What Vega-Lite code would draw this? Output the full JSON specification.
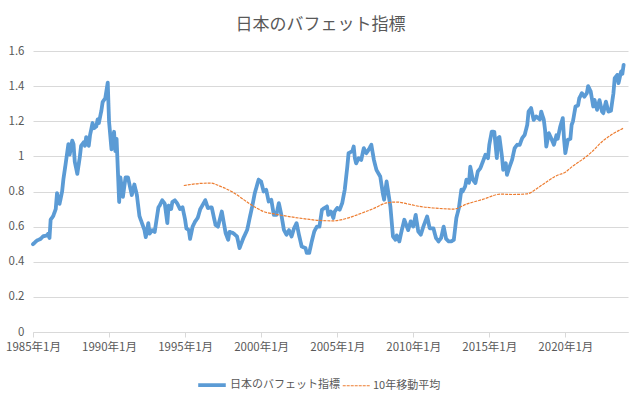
{
  "$schema": "https://vega.github.io/schema/vega-lite/v6.json",
  "width": 595,
  "height": 281,
  "autosize": {"type": "none"},
  "padding": {"left": 33, "top": 51, "right": 12, "bottom": 63},
  "background": "white",
  "title": {"text": "日本のバフェット指標", "fontSize": 17, "font": "Noto Sans CJK JP", "fontWeight": "normal", "color": "#595959", "anchor": "middle", "dx": -10, "offset": 11},
  "encoding": {
    "x": {"field": "d", "type": "temporal",
      "scale": {"type": "utc", "domain": [{"year": 1985, "month": 1, "date": 1, "utc": true}, {"year": 2024, "month": 2, "date": 14, "utc": true}]},
      "axis": {"title": null, "grid": false, "labelExpr": "utcFormat(datum.value, '%Y年%-m月')",
        "values": [{"year": 1985, "month": 1, "date": 1, "utc": true}, {"year": 1990, "month": 1, "date": 1, "utc": true}, {"year": 1995, "month": 1, "date": 1, "utc": true}, {"year": 2000, "month": 1, "date": 1, "utc": true}, {"year": 2005, "month": 1, "date": 1, "utc": true}, {"year": 2010, "month": 1, "date": 1, "utc": true}, {"year": 2015, "month": 1, "date": 1, "utc": true}, {"year": 2020, "month": 1, "date": 1, "utc": true}],
        "domainColor": "#D9D9D9", "tickColor": "#D9D9D9", "tickSize": 5, "labelPadding": 4, "labelFlush": false, "labelOverlap": false}},
    "y": {"field": "v", "type": "quantitative", "scale": {"domain": [0, 1.6], "nice": false},
      "axis": {"title": null, "values": [0, 0.2, 0.4, 0.6, 0.8, 1, 1.2, 1.4, 1.6], "format": "~g", "domain": false, "ticks": false, "gridColor": "#D9D9D9", "labelPadding": 9}}
  },
  "layer": [
    {
      "data": {"format": {"parse": {"d": "utc:'%Y-%m'"}}, "values": [
        {"d":"1985-01","v":0.50},{"d":"1985-04","v":0.52},{"d":"1985-07","v":0.53},{"d":"1985-09","v":0.545},{"d":"1985-12","v":0.55},
        {"d":"1986-01","v":0.56},{"d":"1986-02","v":0.535},{"d":"1986-03","v":0.64},{"d":"1986-05","v":0.66},{"d":"1986-07","v":0.70},{"d":"1986-08","v":0.79},{"d":"1986-10","v":0.73},{"d":"1986-12","v":0.80},
        {"d":"1987-01","v":0.87},{"d":"1987-02","v":0.92},{"d":"1987-05","v":1.07},{"d":"1987-06","v":1.01},{"d":"1987-08","v":1.09},{"d":"1987-09","v":1.07},{"d":"1987-10","v":0.97},{"d":"1987-12","v":0.90},
        {"d":"1988-02","v":1.00},{"d":"1988-03","v":1.06},{"d":"1988-05","v":1.08},{"d":"1988-06","v":1.06},{"d":"1988-07","v":1.11},{"d":"1988-09","v":1.06},{"d":"1988-10","v":1.12},{"d":"1988-12","v":1.19},
        {"d":"1989-01","v":1.16},{"d":"1989-03","v":1.17},{"d":"1989-04","v":1.21},{"d":"1989-05","v":1.19},{"d":"1989-07","v":1.26},{"d":"1989-08","v":1.31},{"d":"1989-10","v":1.33},{"d":"1989-12","v":1.42},
        {"d":"1990-01","v":1.20},{"d":"1990-03","v":1.04},{"d":"1990-05","v":1.14},{"d":"1990-06","v":1.03},{"d":"1990-07","v":1.10},{"d":"1990-09","v":0.74},{"d":"1990-10","v":0.88},{"d":"1990-12","v":0.77},
        {"d":"1991-02","v":0.88},{"d":"1991-04","v":0.88},{"d":"1991-07","v":0.78},{"d":"1991-09","v":0.84},{"d":"1991-11","v":0.78},{"d":"1991-12","v":0.72},
        {"d":"1992-01","v":0.66},{"d":"1992-04","v":0.60},{"d":"1992-05","v":0.58},{"d":"1992-06","v":0.54},{"d":"1992-08","v":0.62},{"d":"1992-09","v":0.56},{"d":"1992-11","v":0.58},
        {"d":"1993-01","v":0.57},{"d":"1993-04","v":0.71},{"d":"1993-05","v":0.72},{"d":"1993-07","v":0.75},{"d":"1993-09","v":0.73},{"d":"1993-11","v":0.62},{"d":"1993-12","v":0.72},
        {"d":"1994-02","v":0.70},{"d":"1994-03","v":0.74},{"d":"1994-05","v":0.75},{"d":"1994-07","v":0.73},{"d":"1994-09","v":0.70},{"d":"1994-11","v":0.71},
        {"d":"1995-01","v":0.64},{"d":"1995-02","v":0.59},{"d":"1995-04","v":0.58},{"d":"1995-05","v":0.53},{"d":"1995-07","v":0.60},{"d":"1995-09","v":0.63},{"d":"1995-11","v":0.65},
        {"d":"1996-01","v":0.70},{"d":"1996-05","v":0.75},{"d":"1996-07","v":0.706},{"d":"1996-10","v":0.71},
        {"d":"1997-01","v":0.61},{"d":"1997-03","v":0.60},{"d":"1997-06","v":0.686},{"d":"1997-09","v":0.563},{"d":"1997-11","v":0.525},{"d":"1997-12","v":0.57},
        {"d":"1998-03","v":0.563},{"d":"1998-06","v":0.544},{"d":"1998-08","v":0.478},{"d":"1998-11","v":0.535},
        {"d":"1999-02","v":0.582},{"d":"1999-04","v":0.649},{"d":"1999-06","v":0.715},{"d":"1999-08","v":0.79},{"d":"1999-11","v":0.867},
        {"d":"2000-01","v":0.857},{"d":"2000-03","v":0.80},{"d":"2000-05","v":0.81},{"d":"2000-07","v":0.743},{"d":"2000-09","v":0.753},{"d":"2000-11","v":0.667},
        {"d":"2001-01","v":0.667},{"d":"2001-03","v":0.734},{"d":"2001-05","v":0.667},{"d":"2001-07","v":0.582},{"d":"2001-09","v":0.554},{"d":"2001-11","v":0.58},
        {"d":"2002-01","v":0.544},{"d":"2002-03","v":0.59},{"d":"2002-05","v":0.62},{"d":"2002-07","v":0.55},{"d":"2002-09","v":0.487},{"d":"2002-12","v":0.478},
        {"d":"2003-01","v":0.45},{"d":"2003-03","v":0.45},{"d":"2003-05","v":0.516},{"d":"2003-07","v":0.573},{"d":"2003-09","v":0.60},{"d":"2003-11","v":0.60},
        {"d":"2004-01","v":0.696},{"d":"2004-03","v":0.706},{"d":"2004-05","v":0.715},{"d":"2004-06","v":0.667},{"d":"2004-08","v":0.686},{"d":"2004-10","v":0.649},{"d":"2004-11","v":0.686},
        {"d":"2005-01","v":0.706},{"d":"2005-03","v":0.696},{"d":"2005-05","v":0.734},{"d":"2005-07","v":0.81},{"d":"2005-09","v":0.942},{"d":"2005-10","v":1.018},
        {"d":"2006-01","v":1.03},{"d":"2006-02","v":1.056},{"d":"2006-03","v":0.99},{"d":"2006-04","v":0.96},{"d":"2006-06","v":0.99},{"d":"2006-08","v":0.98},{"d":"2006-10","v":1.047},{"d":"2006-12","v":1.018},
        {"d":"2007-02","v":1.04},{"d":"2007-04","v":1.066},{"d":"2007-06","v":0.98},{"d":"2007-08","v":0.923},{"d":"2007-11","v":0.885},
        {"d":"2008-01","v":0.79},{"d":"2008-02","v":0.753},{"d":"2008-04","v":0.857},{"d":"2008-05","v":0.81},{"d":"2008-07","v":0.715},{"d":"2008-09","v":0.544},{"d":"2008-11","v":0.525},{"d":"2008-12","v":0.55},
        {"d":"2009-02","v":0.516},{"d":"2009-04","v":0.58},{"d":"2009-06","v":0.639},{"d":"2009-07","v":0.62},{"d":"2009-09","v":0.58},{"d":"2009-11","v":0.63},
        {"d":"2010-01","v":0.60},{"d":"2010-03","v":0.667},{"d":"2010-05","v":0.573},{"d":"2010-07","v":0.554},{"d":"2010-09","v":0.60},{"d":"2010-12","v":0.658},
        {"d":"2011-02","v":0.59},{"d":"2011-05","v":0.59},{"d":"2011-07","v":0.535},{"d":"2011-09","v":0.516},{"d":"2011-11","v":0.535},
        {"d":"2012-01","v":0.60},{"d":"2012-03","v":0.53},{"d":"2012-05","v":0.516},{"d":"2012-07","v":0.516},{"d":"2012-09","v":0.525},{"d":"2012-11","v":0.649},
        {"d":"2013-01","v":0.706},{"d":"2013-03","v":0.81},{"d":"2013-04","v":0.80},{"d":"2013-06","v":0.829},{"d":"2013-07","v":0.867},{"d":"2013-09","v":0.85},{"d":"2013-10","v":0.942},{"d":"2013-12","v":0.867},
        {"d":"2014-02","v":0.848},{"d":"2014-04","v":0.914},{"d":"2014-06","v":0.933},{"d":"2014-08","v":0.971},{"d":"2014-10","v":1.009},{"d":"2014-12","v":0.99},
        {"d":"2015-01","v":1.066},{"d":"2015-03","v":1.141},{"d":"2015-05","v":1.14},{"d":"2015-07","v":0.99},{"d":"2015-08","v":1.104},{"d":"2015-09","v":1.11},{"d":"2015-11","v":1.0},{"d":"2015-12","v":0.923},
        {"d":"2016-02","v":0.961},{"d":"2016-03","v":0.895},{"d":"2016-05","v":0.94},{"d":"2016-07","v":0.98},{"d":"2016-09","v":1.047},{"d":"2016-11","v":1.066},
        {"d":"2017-01","v":1.066},{"d":"2017-03","v":1.104},{"d":"2017-05","v":1.123},{"d":"2017-07","v":1.18},{"d":"2017-08","v":1.255},{"d":"2017-10","v":1.275},{"d":"2017-12","v":1.208},
        {"d":"2018-02","v":1.227},{"d":"2018-05","v":1.21},{"d":"2018-06","v":1.255},{"d":"2018-08","v":1.21},{"d":"2018-09","v":1.151},{"d":"2018-10","v":1.056},{"d":"2018-12","v":1.132},
        {"d":"2019-02","v":1.10},{"d":"2019-04","v":1.066},{"d":"2019-06","v":1.12},{"d":"2019-07","v":1.10},{"d":"2019-09","v":1.17},{"d":"2019-11","v":1.218},{"d":"2019-12","v":1.10},
        {"d":"2020-01","v":1.018},{"d":"2020-03","v":1.094},{"d":"2020-05","v":1.10},{"d":"2020-06","v":1.18},{"d":"2020-07","v":1.198},{"d":"2020-09","v":1.284},{"d":"2020-11","v":1.29},{"d":"2020-12","v":1.331},
        {"d":"2021-02","v":1.36},{"d":"2021-04","v":1.34},{"d":"2021-06","v":1.36},{"d":"2021-07","v":1.40},{"d":"2021-09","v":1.37},{"d":"2021-11","v":1.284},{"d":"2021-12","v":1.322},
        {"d":"2022-02","v":1.265},{"d":"2022-04","v":1.32},{"d":"2022-06","v":1.255},{"d":"2022-07","v":1.246},{"d":"2022-09","v":1.312},{"d":"2022-11","v":1.255},
        {"d":"2023-01","v":1.26},{"d":"2023-03","v":1.36},{"d":"2023-04","v":1.445},{"d":"2023-06","v":1.464},{"d":"2023-07","v":1.417},{"d":"2023-09","v":1.483},{"d":"2023-10","v":1.47},{"d":"2023-11","v":1.521}
      ]},
      "mark": {"type": "line", "strokeJoin": "round", "strokeCap": "round"},
      "encoding": {
        "color": {"datum": "日本のバフェット指標", "type": "nominal", "scale": {"domain": ["日本のバフェット指標", "10年移動平均"], "range": ["#5B9BD5", "#ED7D31"]},
          "legend": {"title": null, "orient": "none", "legendX": 163, "legendY": 318, "direction": "horizontal", "symbolType": "stroke", "symbolSize": 760, "labelFontSize": 11, "labelColor": "#595959", "labelFont": "Noto Sans CJK JP", "columnPadding": 0, "labelOffset": 2}},
        "strokeWidth": {"datum": "日本のバフェット指標", "type": "nominal", "scale": {"domain": ["日本のバフェット指標", "10年移動平均"], "range": [3.8, 1.2]}},
        "strokeDash": {"datum": "日本のバフェット指標", "type": "nominal", "scale": {"domain": ["日本のバフェット指標", "10年移動平均"], "range": [[1, 0], [3, 1]]}}
      }
    },
    {
      "data": {"format": {"parse": {"d": "utc:'%Y-%m'"}}, "values": [
        {"d":"1994-12","v":0.834},{"d":"1996-01","v":0.846},{"d":"1996-09","v":0.848},{"d":"1997-05","v":0.829},{"d":"1998-03","v":0.795},{"d":"1998-11","v":0.755},
        {"d":"1999-04","v":0.73},{"d":"1999-09","v":0.708},{"d":"2000-03","v":0.686},{"d":"2001-01","v":0.67},{"d":"2002-02","v":0.654},{"d":"2003-01","v":0.643},
        {"d":"2003-09","v":0.636},{"d":"2004-10","v":0.633},{"d":"2005-09","v":0.648},{"d":"2006-07","v":0.673},{"d":"2007-06","v":0.704},{"d":"2008-04","v":0.735},
        {"d":"2008-12","v":0.74},{"d":"2009-08","v":0.73},{"d":"2010-06","v":0.715},{"d":"2011-05","v":0.706},{"d":"2012-09","v":0.70},{"d":"2013-07","v":0.728},
        {"d":"2014-08","v":0.755},{"d":"2015-10","v":0.785},{"d":"2016-08","v":0.783},{"d":"2017-07","v":0.787},{"d":"2018-05","v":0.829},{"d":"2019-06","v":0.89},
        {"d":"2020-01","v":0.91},{"d":"2020-07","v":0.945},{"d":"2021-02","v":0.98},{"d":"2021-09","v":1.02},{"d":"2022-07","v":1.09},{"d":"2023-03","v":1.13},{"d":"2023-11","v":1.161}
      ]},
      "mark": {"type": "line", "interpolate": "monotone"},
      "encoding": {
        "color": {"datum": "10年移動平均", "type": "nominal"},
        "strokeWidth": {"datum": "10年移動平均", "type": "nominal"},
        "strokeDash": {"datum": "10年移動平均", "type": "nominal"}
      }
    }
  ],
  "config": {
    "view": {"stroke": null},
    "font": "Noto Sans CJK JP",
    "axis": {"labelFont": "Noto Sans CJK JP", "labelFontSize": 11.5, "labelColor": "#595959"}
  }
}
